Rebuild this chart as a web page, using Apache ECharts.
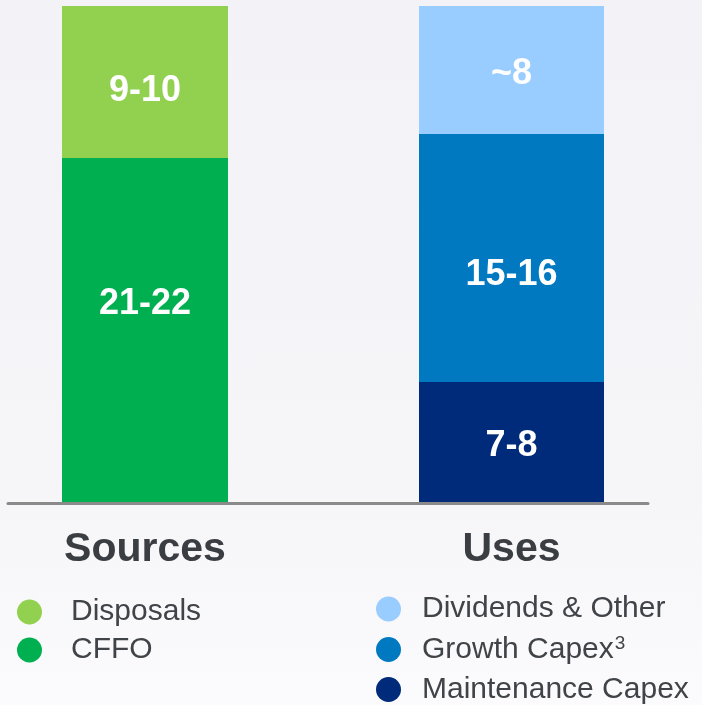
<!DOCTYPE html>
<html>
<head>
<meta charset="utf-8">
<script src="https://cdn.jsdelivr.net/npm/echarts@6/dist/echarts.min.js"></script>
<style>
html,body{margin:0;padding:0;}
body{background:linear-gradient(to bottom,#f2f2f7 0px,#f6f6f9 500px,#fbfbfd 705px);}
#chart{width:702px;height:705px;}
</style>
</head>
<body>
<div id="chart"></div>
<script>
// ---- data ----
const categories = ['Sources', 'Uses'];

const sourceNames  = ['CFFO', 'Disposals'];            // bottom -> top
const sourceValues = [21.5, 9.5];
const sourceLabels = ['21-22', '9-10'];

const useNames  = ['Maintenance Capex', 'Growth Capex', 'Dividends & Other']; // bottom -> top
const useValues = [7.5, 15.5, 8];
const useLabels = ['7-8', '15-16', '~8'];

const yMax = 31;

// ---- styles ----
const sourceColors = ['#00b050', '#92d050'];
const useColors = ['#002a7a', '#0079c1', '#99ccff'];
const sourceLabelOffsets = [-26, 9];
const useLabelOffsets = [4, 17, 4];

const FONT = '"Liberation Sans", Arial, sans-serif';

function makeSeries(names, values, labels, colors, offsets, axisIdx, catIdx, stack, width) {
  return names.map((n, i) => {
    const data = categories.map((c, k) => (k === catIdx ? values[i] : '-'));
    return {
      name: n,
      type: 'bar',
      stack: stack,
      xAxisIndex: axisIdx,
      yAxisIndex: 0,
      barWidth: width,
      data: data,
      itemStyle: { color: colors[i] },
      label: {
        show: true,
        position: 'inside',
        offset: [0, offsets[i]],
        formatter: () => labels[i],
        color: '#ffffff',
        fontFamily: FONT,
        fontWeight: 'bold',
        fontSize: 36
      },
      emphasis: { disabled: true },
      animation: false
    };
  });
}

const series = [].concat(
  makeSeries(sourceNames, sourceValues, sourceLabels, sourceColors, sourceLabelOffsets, 0, 0, 'src', 166),
  makeSeries(useNames, useValues, useLabels, useColors, useLabelOffsets, 1, 1, 'use', 185)
);

const legendTextLeft = {
  fontFamily: FONT,
  fontSize: 30,
  color: '#404347',
  padding: [0, 0, 0, 24]
};
const legendTextRight = {
  fontFamily: FONT,
  fontSize: 30,
  color: '#404347',
  padding: [0, 0, 0, 16],
  rich: { sup: { fontFamily: FONT, fontSize: 19, color: '#404347', padding: [0, 0, 12, 1] } }
};

const option = {
  backgroundColor: 'transparent',
  animation: false,
  grid: [
    { left: 145, width: 366.5, top: 6, bottom: 203 },
    { left: 8, width: 640, top: 100, bottom: 201.5 }
  ],
  xAxis: [
    {
      type: 'category', gridIndex: 0, data: categories, boundaryGap: false,
      axisLine: { show: false }, axisTick: { show: false },
      axisLabel: {
        margin: 27, fontFamily: FONT, fontWeight: 'bold', fontSize: 41, color: '#3a3d41'
      }
    },
    {
      type: 'category', gridIndex: 0, data: categories, boundaryGap: false, show: false
    },
    {
      type: 'category', gridIndex: 1, data: [''],
      axisLine: { show: true, lineStyle: { color: '#8a8a8a', width: 3 } },
      axisTick: { show: false }, axisLabel: { show: false }
    }
  ],
  yAxis: [
    { type: 'value', gridIndex: 0, min: 0, max: yMax, show: false },
    { type: 'value', gridIndex: 1, min: 0, max: 1, show: false }
  ],
  legend: [
    {
      data: ['Disposals', 'CFFO'],
      orient: 'vertical', left: 17, top: 597, padding: 0,
      icon: 'circle', itemWidth: 25, itemHeight: 25, itemGap: 8,
      textStyle: legendTextLeft, selectedMode: false
    },
    {
      data: ['Dividends & Other', 'Growth Capex', 'Maintenance Capex'],
      orient: 'vertical', left: 376, top: 594, padding: 0,
      icon: 'circle', itemWidth: 25, itemHeight: 25, itemGap: 10,
      formatter: (n) => n === 'Growth Capex' ? 'Growth Capex{sup|3}' : n,
      textStyle: legendTextRight,
      selectedMode: false
    }
  ],
  series: series
};

const chart = echarts.init(document.getElementById('chart'), null, { renderer: 'canvas' });
chart.setOption(option);
</script>
</body>
</html>
